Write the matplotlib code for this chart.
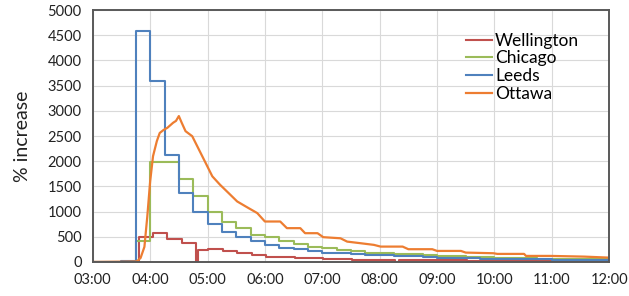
import matplotlib
matplotlib.use("Agg")
import matplotlib.pyplot as plt

plt.rcParams['font.family'] = ['Lato', 'DejaVu Sans']

# tick labels
hour_labels = ['03:00', '04:00', '05:00', '06:00', '07:00', '08:00', '09:00', '10:00', '11:00', '12:00']

# Leeds / Chicago - 15 minute steps
step_times = ['03:00', '03:15', '03:30', '03:45', '04:00', '04:15', '04:30', '04:45',
              '05:00', '05:15', '05:30', '05:45', '06:00', '06:15', '06:30', '06:45',
              '07:00', '07:15', '07:30', '07:45', '08:00', '08:15', '08:30', '08:45',
              '09:00', '09:15', '09:30', '09:45', '10:00', '10:15', '10:30', '10:45',
              '11:00', '11:15', '11:30', '11:45', '12:00']
leeds = [0, 0, 25, 4580, 3600, 2130, 1365, 990, 750, 600, 500, 410, 340, 285, 250, 220,
         185, 170, 150, 140, 135, 125, 115, 100, 88, 80, 72, 66, 60, 56, 53, 50,
         47, 45, 43, 41, 40]
chicago = [0, 0, 0, 425, 1980, 1975, 1650, 1300, 1000, 800, 665, 545, 490, 420, 360, 305,
           272, 240, 210, 186, 173, 160, 150, 135, 120, 112, 105, 95, 86, 80, 75, 68,
           60, 57, 54, 52, 50]

# Wellington - steps, slightly offset
wellington_times = ['03:00', '03:48', '04:03', '04:18', '04:33', '04:48', '04:50', '05:01',
                    '05:16', '05:31', '05:46', '06:01', '06:16', '06:31', '06:46', '07:01',
                    '07:16', '07:31', '07:46', '08:01', '08:16', '08:20', '08:31', '08:46',
                    '09:01', '09:31', '10:01', '10:31', '11:01', '11:31', '12:00']
wellington = [0, 490, 580, 455, 370, 0, 240, 265, 215, 175, 140, 108, 96, 80, 70, 63,
              55, 45, 40, 36, 0, 34, 33, 31, 30, 28, 26, 24, 23, 21, 20]

# Ottawa - continuous line
ottawa_times = ['03:00', '03:30', '03:46', '03:50', '03:54', '03:57', '04:00', '04:03',
                '04:07', '04:10', '04:14', '04:18', '04:24', '04:27', '04:30', '04:33',
                '04:37', '04:44', '04:51', '04:58', '05:05', '05:13', '05:22', '05:31',
                '05:41', '05:52', '06:00', '06:16', '06:23', '06:37', '06:42', '06:55',
                '07:01', '07:19', '07:26', '07:40', '07:54', '08:01', '08:24', '08:30',
                '08:55', '09:00', '09:25', '09:30', '09:59', '10:03', '10:31', '10:33',
                '10:59', '11:34', '12:00']
ottawa = [0, 5, 10, 80, 300, 900, 1600, 2100, 2400, 2560, 2620, 2663, 2763, 2800, 2896,
          2763, 2596, 2496, 2231, 1966, 1700, 1534, 1368, 1201, 1090, 970, 803, 803, 671,
          671, 571, 571, 492, 470, 404, 372, 339, 305, 305, 253, 253, 219, 219, 186, 173,
          160, 160, 120, 120, 106, 86]


def to_hours(times):
    return [int(t[:2]) + int(t[3:]) / 60 for t in times]


fig = plt.figure(figsize=(6.29, 2.96), dpi=100)
ax = fig.add_axes([0.1475, 0.115, 0.821, 0.851])

ax.plot(to_hours(wellington_times), wellington, color='#C0504D', lw=1.5,
        drawstyle='steps-post', label='Wellington')
ax.plot(to_hours(step_times), chicago, color='#9BBB59', lw=1.5,
        drawstyle='steps-post', label='Chicago')
ax.plot(to_hours(step_times), leeds, color='#4F81BD', lw=1.5,
        drawstyle='steps-post', label='Leeds')
ax.plot(to_hours(ottawa_times), ottawa, color='#ED7D31', lw=1.6, label='Ottawa')

ax.set_xlim(3, 12)
ax.set_ylim(0, 5000)
ax.set_xticks(to_hours(hour_labels))
ax.set_xticklabels(hour_labels)
ax.set_yticks(range(0, 5001, 500))
ax.tick_params(length=0, labelsize=10.5, colors='#222222', pad=8)
ax.grid(True, color='#D9D9D9', lw=0.8)
ax.set_axisbelow(True)
for s in ax.spines.values():
    s.set_color('#595959')
    s.set_linewidth(1.4)

ax.set_ylabel('% increase', fontsize=14, labelpad=12, color='#222222')

ax.legend(loc='upper left', bbox_to_anchor=(0.705, 0.945), frameon=False, fontsize=12.5,
          handlelength=1.5, handletextpad=0.2, labelspacing=0.1, borderpad=0)

fig.savefig('out.png', dpi=100)
